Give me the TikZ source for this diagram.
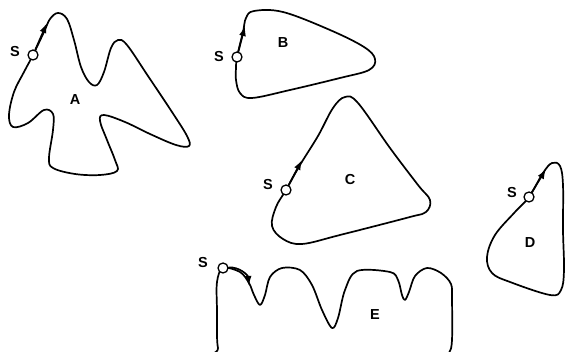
\documentclass[tikz,border=0pt]{standalone}
\usepackage{fontspec}
\setmainfont{Liberation Sans}
\usetikzlibrary{arrows.meta}
\begin{document}
\begin{tikzpicture}[x=1pt,y=-1pt,
  outline/.style={line width=1.7pt,line join=round},
  arr/.style={line width=1.7pt,-{Latex[length=10pt,width=7pt]}},
  startpt/.style={circle,draw,line width=1.3pt,fill=white,minimum size=10pt,inner sep=0pt},
  lbl/.style={font=\bfseries\fontsize{14.5}{14.5}\selectfont,inner sep=0pt}]
\useasboundingbox (0,0) rectangle (566,352);
\clip (0,0) rectangle (566,352);
% Shape A
\draw[outline] plot[smooth cycle,tension=0.6] coordinates {
 (33,55) (44,32) (50,19) (58,13) (67,19) (74,40) (81,67) (89,82) (97,85) (104,72)
 (111,48) (118,40) (127,45) (148,76) (172,112) (187,136) (189,146)
 (176,145) (150,134) (125,122) (104,115) (100,121) (107,140) (115,160) (117,171)
 (100,175) (75,174) (53,168) (49,158) (53,130) (53,114) (44,110) (28,123) (13,127)
 (9,115) (14,92) (24,72)};
% Shape B
\draw[outline] plot[smooth cycle,tension=0.6] coordinates {
 (237,57) (243,32) (246,18) (254,11) (283,12) (330,30) (364,47) (375,59) (369,70)
 (340,78) (290,90) (252,98) (240,93) (236,80) (236,68)};
% Shape C
\draw[outline] plot[smooth cycle,tension=0.6] coordinates {
 (286,190) (300,165) (318,136) (333,108) (345,97) (358,103) (390,148) (418,185)
 (430,200) (426,212) (410,217) (340,235) (302,244) (283,239) (272,226) (276,207)};
% Shape D
\draw[outline] plot[smooth cycle,tension=0.6] coordinates {
 (529,197) (543,173) (552,163) (560,166) (563,185) (563,230) (564,270) (561,290)
 (550,295) (510,282) (492,273) (487,257) (495,235) (515,212)};
% Shape E
\draw[outline] plot[smooth cycle,tension=0.55] coordinates {
 (223,268) (240,272) (249,283) (254,295) (260,305) (265,295) (270,277) (282,268)
 (300,270) (312,285) (322,310) (332,328) (338,318) (345,290) (357,271) (390,272)
 (398,280) (402,295) (405,300) (409,292) (415,276) (427,268) (441,273) (451,284)
 (452,300) (452,340) (449,353) (440,357) (228,357) (218,348) (217,310) (217,282)};
% start points
\node[startpt] (sA) at (33,55) {};
\node[startpt] (sB) at (237,57) {};
\node[startpt] (sC) at (286,190) {};
\node[startpt] (sD) at (529,197) {};
\node[startpt] (sE) at (223,268) {};
\coordinate (tA) at (47,23);
\coordinate (tB) at (245,26);
\coordinate (tC) at (302,160);
\coordinate (tD) at (546,169);
\coordinate (tE) at (249,286);
\draw[arr] (sA) -- (tA);
\draw[arr] (sB) -- (tB);
\draw[arr] (sC) -- (tC);
\draw[arr] (sD) -- (tD);
\draw[arr] (sE) to[out=5,in=95] (tE);
% labels
\node[lbl] (SA) at (15,52) {S};
\node[lbl] (SB) at (219,57) {S};
\node[lbl] (SC) at (268,185) {S};
\node[lbl] (SD) at (512,193) {S};
\node[lbl] (SE) at (203,263) {S};
\node[lbl] (A) at (75,100) {A};
\node[lbl] (B) at (283,43) {B};
\node[lbl] (C) at (350,180) {C};
\node[lbl] (D) at (530,243) {D};
\node[lbl] (E) at (375,315) {E};
\end{tikzpicture}
\end{document}
